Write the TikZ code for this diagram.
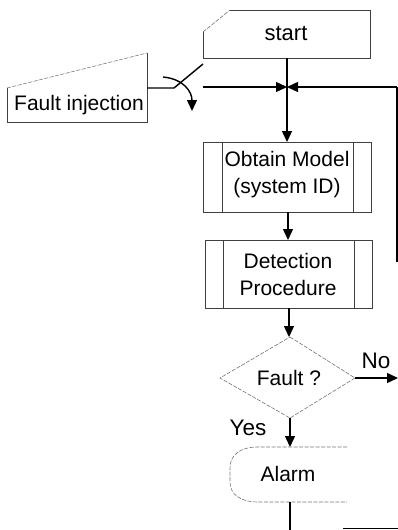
\documentclass[tikz,border=0pt]{standalone}
\usepackage{fontspec}
\setmainfont{Liberation Sans}
\usetikzlibrary{arrows.meta}
\begin{document}
\begin{tikzpicture}[x=1pt,y=-1pt,
  box/.style={line width=0.7pt, draw=black!75},
  faint/.style={line width=0.6pt, draw=black!55, dash pattern=on 4pt off 1.5pt},
  conn/.style={line width=1.4pt, draw=black},
  arr/.style={conn, -{Triangle[length=11pt,width=10pt]}},
  txt/.style={font=\fontsize{21}{27}\selectfont, align=center, inner sep=0pt},
  lbl/.style={font=\fontsize{22.5}{27}\selectfont, inner sep=0pt}]
\useasboundingbox (0,0) rectangle (398,530);
% start (manual input)
\draw[box] (203,58) -- (203,32) (370,10) -- (370,58) -- (203,58);
\draw[box] (230,10) -- (370,10);
\draw[faint] (203,32) -- (230,10);
\node[txt, font=\fontsize{22}{27}\selectfont] (start) at (286,33) {start};
% fault injection (manual input)
\draw[box] (7,88) -- (7,122) -- (147,122) -- (147,53);
\draw[faint] (7,88) -- (147,53);
\node[txt] (fi) at (79,105) {Fault injection};
% obtain model (predefined process)
\draw[box] (203,142) rectangle (371,212);
\draw[box] (222,142) -- (222,212) (353,142) -- (353,212);
\node[txt] (om) at (287,175) {Obtain Model\\(system ID)};
% detection procedure
\draw[box] (205,240) rectangle (372,308);
\draw[box] (223,240) -- (223,308) (354,240) -- (354,308);
\node[txt] (dp) at (288,274) {Detection\\Procedure};
% decision
\draw[faint] (290,337) -- (355,378) -- (290,418) -- (220,378) -- cycle;
\node[txt] (fault) at (289,378) {Fault ?};
% alarm
\draw[faint] (347,447) -- (258,447) .. controls (240,447) and (230,455) .. (230,468)
  -- (230,482) .. controls (230,494) and (240,502) .. (258,502) -- (347,502);
\node[txt] (alarm) at (288,474) {Alarm};
% labels
\node[lbl] (yes) at (248,428) {Yes};
\node[lbl] (no) at (376,361) {No};
% coordinates
\coordinate (sb) at (287,58);
\coordinate (j) at (287,87);
\coordinate (omt) at (287,142);
\coordinate (omb) at (288,212);
\coordinate (dpt) at (288,240);
\coordinate (dpb) at (289,308);
\coordinate (dt) at (289,337);
\coordinate (dr) at (355,378);
\coordinate (noend) at (398,378);
\coordinate (db) at (290,418);
\coordinate (at) at (290,447);
\coordinate (ab) at (290,502);
\coordinate (abend) at (290,530);
\coordinate (fr) at (147,88);
\coordinate (sw) at (174,88);
\coordinate (swt) at (203,64);
\coordinate (hl) at (203,87);
\coordinate (rt) at (397,87);
\coordinate (rb) at (397,262);
\coordinate (bl) at (343,528);
\coordinate (br) at (398,528);
\coordinate (as) at (163,77);
\coordinate (ae) at (192,111);
% connectors
\draw[conn] (sb) -- (j);
\draw[arr] (j) -- (omt);
\draw[arr] (hl) -- (j);
\draw[arr] (rt) -- (j);
\draw[conn] (rt) -- (rb);
\draw[arr] (omb) -- (dpt);
\draw[arr] (dpb) -- (dt);
\draw[arr] (dr) -- (noend);
\draw[arr] (db) -- (at);
\draw[conn] (ab) -- (abend);
\draw[line width=0.8pt] (bl) -- (br);
\draw[conn] (fr) -- (sw) -- (swt);
\draw[arr] (as) .. controls (184,79) and (192,92) .. (ae);
\end{tikzpicture}
\end{document}
